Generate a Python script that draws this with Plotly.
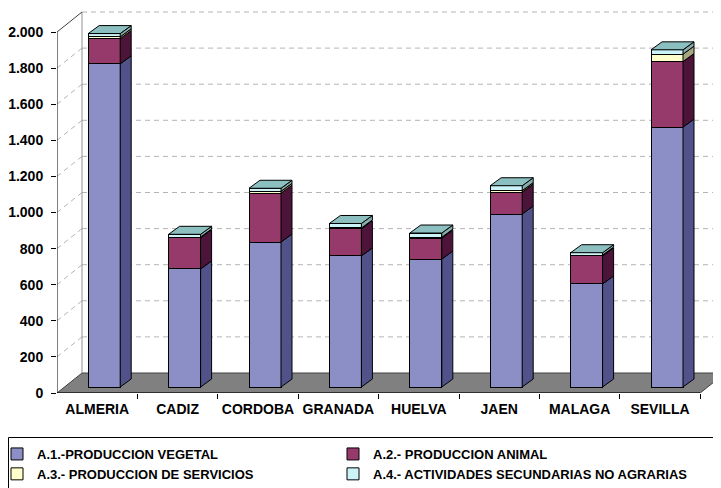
import plotly.graph_objects as go

categories = ["ALMERIA", "CADIZ", "CORDOBA", "GRANADA", "HUELVA", "JAEN", "MALAGA", "SEVILLA"]
vegetal = [1790, 654, 803, 726, 709, 958, 571, 1440]
animal = [140, 172, 271, 150, 116, 122, 155, 363]
servicios = [10, 5, 10, 5, 5, 8, 5, 41]
secundarias = [18, 15, 17, 25, 23, 27, 13, 24]
series_names = ["A.1.-PRODUCCION VEGETAL", "A.2.- PRODUCCION ANIMAL",
                "A.3.- PRODUCCION DE SERVICIOS", "A.4.- ACTIVIDADES SECUNDARIAS NO AGRARIAS"]
ytick_vals = list(range(0, 2001, 200))
ytick_text = ["0", "200", "400", "600", "800", "1.000", "1.200", "1.400", "1.600", "1.800", "2.000"]

front_cols = ["#8C8EC6", "#963A6C", "#FFFFCC", "#CCF4F8"]
side_cols = ["#52528A", "#4C1438", "#A8A880", "#88AAAA"]
top_col = "#8CBFBF"
legend_groups = ["legend", "legend2", "legend", "legend2"]

# page is drawn with an 8px body margin; figure is sized to fill the rest
PAGE_OFF = 8
FIG_W, FIG_H = 713, 480
ML, MR, MT, MB = 49, 1, 2, 95
W = FIG_W - ML - MR       # 663
H = FIG_H - MT - MB       # 383
K = 361 / 2000.0          # px per value unit
CAT = 80.4                # px per category
bar_dy0 = 6               # bar plane above front plane (px)
DEP_X, DEP_Y = 25, 20     # full chart depth (px)
BAR_DX, BAR_DY = 11, 8    # bar depth (px)


def page_x(p):
    return (p - PAGE_OFF - ML) / W


def page_y(p):
    return (H + MT - (p - PAGE_OFF)) / H


n = len(categories)
xs = list(range(n))
b_off = (-9) / CAT
b_w = 32 / CAT
ddx = BAR_DX / CAT
ddy = BAR_DY / K
D = DEP_X / CAT
DB = DEP_Y / K

fig = go.Figure()
series = [vegetal, animal, servicios, secundarias]
axfont = dict(family="Liberation Sans, Arial", size=14, color="black", weight="bold")
lgfont = dict(family="Liberation Sans, Arial", size=13, color="black", weight="bold")

for s, name, fc, lg in zip(series, series_names, front_cols, legend_groups):
    fig.add_trace(go.Bar(x=xs, y=s, name=name, width=b_w, offset=b_off,
                         marker=dict(color=fc, line=dict(color="black", width=1)),
                         yaxis="y", hoverinfo="skip", legend=lg))

# side faces
bases = [0] * n
for s, sc in zip(series, side_cols):
    px, py = [], []
    for i in range(n):
        b = bases[i]
        t = b + s[i]
        xr = i + b_off + b_w
        px += [xr, xr + ddx, xr + ddx, xr, xr, None]
        py += [b, b + ddy, t + ddy, t, b, None]
        bases[i] = t
    fig.add_trace(go.Scatter(x=px, y=py, mode="lines", fill="toself", fillcolor=sc,
                             line=dict(color="black", width=1), showlegend=False,
                             hoverinfo="skip", yaxis="y"))
# top faces
px, py = [], []
for i in range(n):
    T = bases[i]
    xl = i + b_off
    xr = xl + b_w
    px += [xl, xr, xr + ddx, xl + ddx, xl, None]
    py += [T, T, T + ddy, T + ddy, T, None]
fig.add_trace(go.Scatter(x=px, y=py, mode="lines", fill="toself", fillcolor=top_col,
                         line=dict(color="black", width=1), showlegend=False,
                         hoverinfo="skip", yaxis="y"))

shapes = []
x0 = -0.5
x1 = n - 0.5
xmax = x0 + W / CAT
# floor
shapes.append(dict(type="path", xref="x", yref="y2", layer="below",
                   path=f"M {x0},0 L {x1},0 L {x1 + D},{DB} L {x0 + D},{DB} Z",
                   fillcolor="#808080", line=dict(color="#404040", width=1)))
# gridlines back wall and left wall
for v in ytick_vals[1:]:
    shapes.append(dict(type="line", xref="x", yref="y2", layer="below",
                       x0=x0 + D, x1=xmax, y0=v + DB, y1=v + DB,
                       line=dict(color="#B4B4B4", width=1, dash="5px,4px")))
    if v < 2000:
        shapes.append(dict(type="line", xref="x", yref="y2", layer="below",
                           x0=x0, x1=x0 + D, y0=v, y1=v + DB,
                           line=dict(color="#B4B4B4", width=1, dash="5px,4px")))
# back wall left edge
shapes.append(dict(type="line", xref="x", yref="y2", layer="below",
                   x0=x0 + D, x1=x0 + D, y0=DB, y1=2000 + DB,
                   line=dict(color="#909090", width=1)))
# top diagonal
shapes.append(dict(type="line", xref="x", yref="y2", layer="below",
                   x0=x0, x1=x0 + D, y0=2000, y1=2000 + DB,
                   line=dict(color="#404040", width=1)))
# front axes
shapes.append(dict(type="line", xref="x", yref="y2", layer="above",
                   x0=x0, x1=x0, y0=0, y1=2000, line=dict(color="black", width=1)))
shapes.append(dict(type="line", xref="x", yref="y2", layer="above",
                   x0=x0, x1=x1, y0=0, y1=0, line=dict(color="black", width=1)))
# legend frame (page px 8,437 -> beyond the right/bottom edges)
shapes.append(dict(type="rect", xref="paper", yref="paper", layer="below",
                   x0=page_x(8.5), x1=page_x(740), y0=page_y(437.5), y1=page_y(500),
                   line=dict(color="black", width=1), fillcolor="white"))

leg_common = dict(orientation="v", xanchor="left", yanchor="top", itemwidth=30,
                  borderwidth=0, font=lgfont, traceorder="normal",
                  bgcolor="rgba(0,0,0,0)", tracegroupgap=0)

fig.update_layout(
    width=FIG_W, height=FIG_H,
    margin=dict(l=ML, r=MR, t=MT, b=MB, autoexpand=False),
    paper_bgcolor="white", plot_bgcolor="white",
    barmode="stack",
    shapes=shapes,
    font=axfont,
    xaxis=dict(range=[x0, xmax], tickmode="array", tickvals=xs, ticktext=categories,
               ticks="", showgrid=False, zeroline=False, showline=False,
               tickfont=axfont, fixedrange=True, automargin=False, ticklabelstandoff=6,
               minor=dict(tickmode="array", tickvals=[i - 0.5 for i in range(1, n + 1)],
                          ticks="outside", ticklen=5, tickcolor="black", showgrid=False)),
    yaxis=dict(range=[-bar_dy0 / K, (H - bar_dy0) / K], visible=False, fixedrange=True),
    yaxis2=dict(range=[0, H / K], overlaying="y", side="left", tickmode="array",
                tickvals=ytick_vals, ticktext=ytick_text, ticks="outside", ticklen=5,
                tickcolor="black", showgrid=False, zeroline=False, showline=False,
                tickfont=axfont, fixedrange=True, automargin=False, ticklabelstandoff=5),
    legend=dict(x=page_x(-3), y=page_y(439), **leg_common),
    legend2=dict(x=page_x(333), y=page_y(439), **leg_common),
    showlegend=True,
)

fig.write_html("out.html")
